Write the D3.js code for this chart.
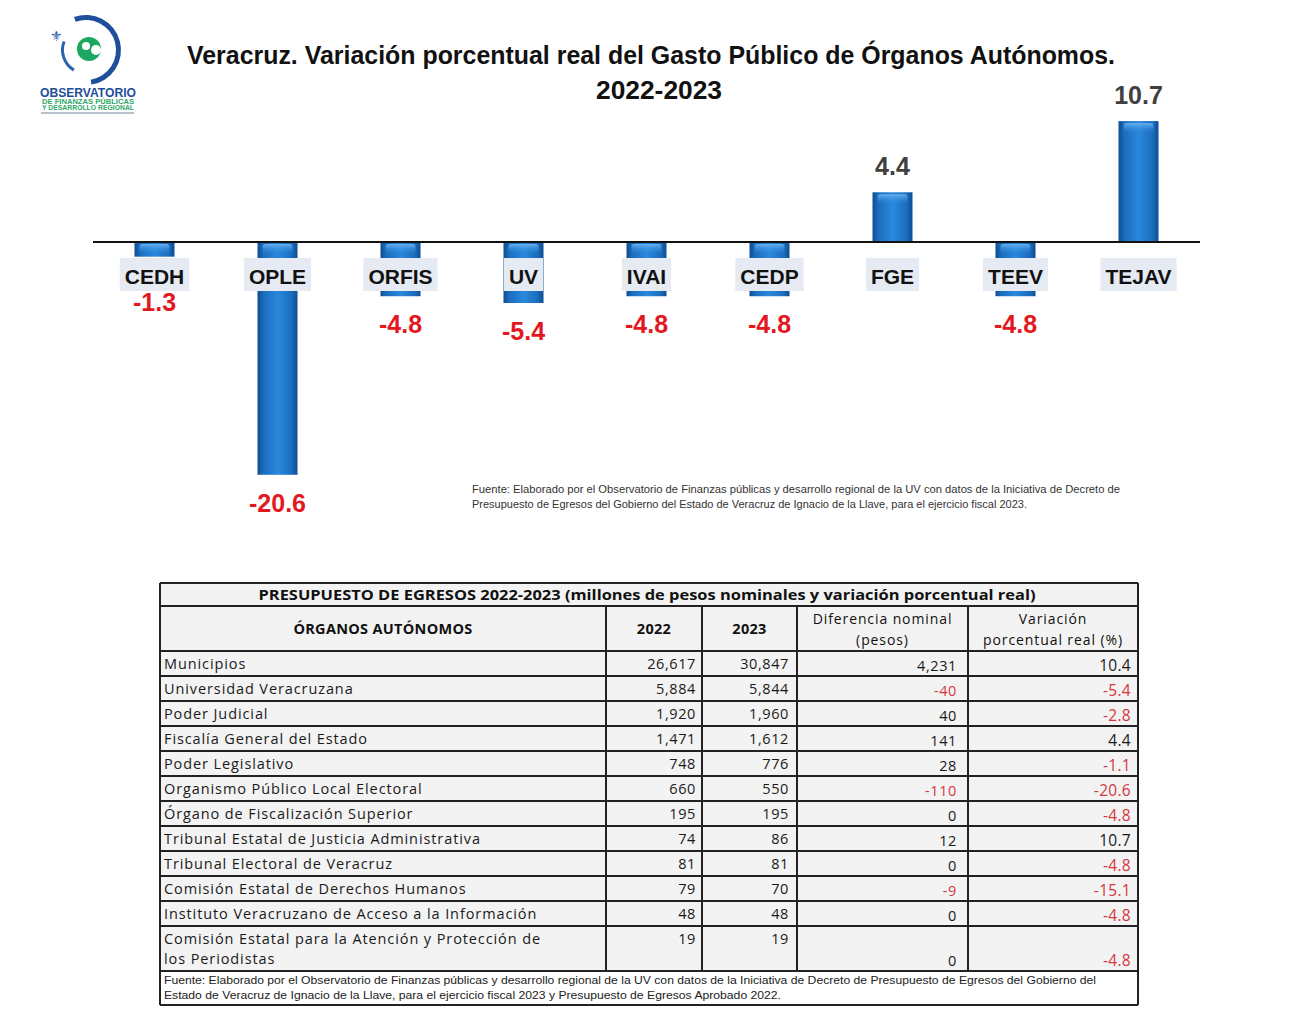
<!DOCTYPE html>
<html>
<head>
<meta charset="utf-8">
<script src="https://cdn.jsdelivr.net/npm/d3@7/dist/d3.min.js"></script>
<style>
  html, body { margin: 0; padding: 0; background: #fff; }
  svg { display: block; }
</style>
</head>
<body>
<div id="chart"></div>
<script>
// ---------- DATA ----------
const categories = ["CEDH", "OPLE", "ORFIS", "UV", "IVAI", "CEDP", "FGE", "TEEV", "TEJAV"];
const variation = [-1.3, -20.6, -4.8, -5.4, -4.8, -4.8, 4.4, -4.8, 10.7];

const organos = [
  "Municipios",
  "Universidad Veracruzana",
  "Poder Judicial",
  "Fiscalía General del Estado",
  "Poder Legislativo",
  "Organismo Público Local Electoral",
  "Órgano de Fiscalización Superior",
  "Tribunal Estatal de Justicia Administrativa",
  "Tribunal Electoral de Veracruz",
  "Comisión Estatal de Derechos Humanos",
  "Instituto Veracruzano de Acceso a la Información",
  "Comisión Estatal para la Atención y Protección de|los Periodistas"
];
const pres2022 = [26617, 5884, 1920, 1471, 748, 660, 195, 74, 81, 79, 48, 19];
const pres2023 = [30847, 5844, 1960, 1612, 776, 550, 195, 86, 81, 70, 48, 19];
const difNominal = [4231, -40, 40, 141, 28, -110, 0, 12, 0, -9, 0, 0];
const varReal = [10.4, -5.4, -2.8, 4.4, -1.1, -20.6, -4.8, 10.7, -4.8, -15.1, -4.8, -4.8];

const tableTitle = "PRESUPUESTO DE EGRESOS 2022-2023 (millones de pesos nominales y variación porcentual real)";
const colHeaders = ["ÓRGANOS AUTÓNOMOS", "2022", "2023", "Diferencia nominal|(pesos)", "Variación|porcentual real (%)"];
const chartTitle = ["Veracruz. Variación porcentual real del Gasto Público de Órganos Autónomos.", "2022-2023"];
const chartSource = [
  "Fuente: Elaborado por el Observatorio de Finanzas públicas y desarrollo regional de la UV con datos de la  Iniciativa de  Decreto de",
  "Presupuesto de Egresos del Gobierno del Estado de Veracruz de Ignacio de la Llave, para el ejercicio fiscal 2023."
];
const tableSource = [
  "Fuente: Elaborado por el Observatorio de Finanzas públicas y desarrollo regional de la UV con datos de la  Iniciativa de  Decreto de Presupuesto de Egresos del Gobierno del",
  "Estado de Veracruz de Ignacio de la Llave, para el ejercicio fiscal 2023 y Presupuesto de Egresos Aprobado 2022."
];

// ---------- SVG ----------
const W = 1294, H = 1027;
const svg = d3.select("#chart").append("svg").attr("width", W).attr("height", H);
svg.append("rect").attr("width", W).attr("height", H).attr("fill", "#fff");

const FONT = "'Liberation Sans', Arial, sans-serif";
const TFONT = "'Open Sans', 'Liberation Sans', sans-serif";
const hy = s => s.replace(/\u2212/g, "-");
const fmt1 = v => hy(d3.format(".1f")(v));
const fmtInt = v => hy(d3.format(",")(v));

const defs = svg.append("defs");
const g1 = defs.append("linearGradient").attr("id", "barGrad").attr("x1", 0).attr("x2", 1).attr("y1", 0).attr("y2", 0);
[["0%", "#0f4d8f"], ["14%", "#1b6cbc"], ["50%", "#2a88dc"], ["86%", "#1b6cbc"], ["100%", "#0f4d8f"]]
  .forEach(([o, c]) => g1.append("stop").attr("offset", o).attr("stop-color", c));
const g2 = defs.append("linearGradient").attr("id", "hiGrad").attr("x1", 0).attr("x2", 0).attr("y1", 0).attr("y2", 1);
[["0%", "#6fb6f2", 0.9], ["100%", "#2a88dc", 0]]
  .forEach(([o, c, a]) => g2.append("stop").attr("offset", o).attr("stop-color", c).attr("stop-opacity", a));

// ---------- LOGO ----------
const logo = svg.append("g");
logo.append("path")
  .attr("d", d3.arc()({ innerRadius: 30, outerRadius: 35, startAngle: -0.35, endAngle: Math.PI * 0.95 }))
  .attr("transform", "translate(86,50)").attr("fill", "#1f4e9a");
logo.append("path")
  .attr("d", d3.arc()({ innerRadius: 22, outerRadius: 25, startAngle: -2.6, endAngle: -1.2 }))
  .attr("transform", "translate(86,50)").attr("fill", "#2b63ad");
logo.append("circle").attr("cx", 89).attr("cy", 49).attr("r", 12).attr("fill", "#1aa860");
logo.append("circle").attr("cx", 96).attr("cy", 50).attr("r", 5).attr("fill", "#fff");
logo.append("circle").attr("cx", 86).attr("cy", 46).attr("r", 4).attr("fill", "#fff");
logo.append("text").attr("x", 56).attr("y", 41).attr("font-size", 14).attr("font-family", FONT)
  .attr("fill", "#2a62b0").attr("text-anchor", "middle").text("⚜");
logo.append("text").attr("x", 88).attr("y", 97).attr("text-anchor", "middle")
  .attr("font-family", FONT).attr("font-weight", "bold").attr("font-size", 12).attr("fill", "#1f4e9a")
  .attr("textLength", 96).attr("lengthAdjust", "spacingAndGlyphs").text("OBSERVATORIO");
logo.append("text").attr("x", 88).attr("y", 104).attr("text-anchor", "middle")
  .attr("font-family", FONT).attr("font-weight", "bold").attr("font-size", 6.5).attr("fill", "#2fa86a")
  .attr("textLength", 92).attr("lengthAdjust", "spacingAndGlyphs").text("DE FINANZAS PÚBLICAS");
logo.append("text").attr("x", 88).attr("y", 110).attr("text-anchor", "middle")
  .attr("font-family", FONT).attr("font-weight", "bold").attr("font-size", 6.5).attr("fill", "#2fa86a")
  .attr("textLength", 92).attr("lengthAdjust", "spacingAndGlyphs").text("Y DESARROLLO REGIONAL");
logo.append("rect").attr("x", 41).attr("y", 112).attr("width", 93).attr("height", 2).attr("fill", "#b8c2cc");

// ---------- TITLE ----------
svg.append("text").attr("x", 651).attr("y", 64).attr("text-anchor", "middle")
  .attr("font-family", FONT).attr("font-weight", "bold").attr("font-size", 25).attr("fill", "#111")
  .attr("textLength", 928).attr("lengthAdjust", "spacingAndGlyphs").text(chartTitle[0]);
svg.append("text").attr("x", 659).attr("y", 99).attr("text-anchor", "middle")
  .attr("font-family", FONT).attr("font-weight", "bold").attr("font-size", 25).attr("fill", "#111")
  .attr("textLength", 126).attr("lengthAdjust", "spacingAndGlyphs").text(chartTitle[1]);

// ---------- BAR CHART ----------
const x = d3.scaleBand().domain(categories).range([93, 1200]).padding(0);
const y = d3.scaleLinear().domain([-25, 15]).range([242 + 25 * 11.3, 242 - 15 * 11.3]);
const bw = 40;
const data = categories.map((c, i) => ({ c, v: variation[i] }));

const bars = svg.append("g");
bars.selectAll("rect.bar").data(data).join("rect").attr("class", "bar")
  .attr("x", d => x(d.c) + x.bandwidth() / 2 - bw / 2)
  .attr("y", d => Math.min(y(d.v), y(0)))
  .attr("width", bw)
  .attr("height", d => Math.abs(y(d.v) - y(0)))
  .attr("fill", "url(#barGrad)");
bars.selectAll("rect.hi").data(data).join("rect").attr("class", "hi")
  .attr("x", d => x(d.c) + x.bandwidth() / 2 - bw / 2 + 5)
  .attr("y", d => Math.min(y(d.v), y(0)) + 2)
  .attr("width", bw - 10)
  .attr("height", d => Math.min(10, Math.abs(y(d.v) - y(0)) - 3))
  .attr("rx", 3)
  .attr("fill", "url(#hiGrad)");

// axis line (zero)
svg.append("line").attr("x1", 93).attr("x2", 1200).attr("y1", y(0)).attr("y2", y(0))
  .attr("stroke", "#111").attr("stroke-width", 2);

// category labels with light boxes
const catG = svg.append("g");
data.forEach(d => {
  const cx = x(d.c) + x.bandwidth() / 2;
  const t = catG.append("text").attr("x", cx).attr("y", 284).attr("text-anchor", "middle")
    .attr("font-family", FONT).attr("font-weight", "bold").attr("font-size", 21).attr("fill", "#111")
    .text(d.c);
  const bb = t.node().getBBox();
  catG.insert("rect", "text").attr("x", bb.x - 5).attr("y", 258).attr("width", bb.width + 10).attr("height", 33)
    .attr("fill", "#e6eaf2");
});

// value labels
svg.append("g").selectAll("text").data(data).join("text")
  .attr("x", d => x(d.c) + x.bandwidth() / 2)
  .attr("y", d => d.v >= 0 ? y(d.v) - 17 : Math.max(y(d.v) + 37, 311))
  .attr("text-anchor", "middle")
  .attr("font-family", FONT).attr("font-weight", "bold").attr("font-size", 25)
  .attr("fill", d => d.v >= 0 ? "#404040" : "#e3181f")
  .text(d => fmt1(d.v));

// chart source
chartSource.forEach((s, i) => {
  svg.append("text").attr("x", 472).attr("y", 493 + i * 15)
    .attr("font-family", FONT).attr("font-size", 10).attr("fill", "#333")
    .attr("textLength", i === 0 ? 648 : 555).attr("lengthAdjust", "spacingAndGlyphs").text(s);
});

// ---------- TABLE ----------
const colX = [160, 606, 702, 797, 968, 1138];
const tTop = 583, titleH = 23, headH = 45;
const rowH = organos.map(n => n.includes("|") ? 45 : 25);
const rowTop = [];
let acc = tTop + titleH + headH;
rowH.forEach(h => { rowTop.push(acc); acc += h; });
const footTop = acc, tBottom = 1005;

const tbl = svg.append("g");
tbl.append("rect").attr("x", colX[0]).attr("y", tTop).attr("width", colX[5] - colX[0]).attr("height", footTop - tTop)
  .attr("fill", "#f3f3f3");
tbl.append("rect").attr("x", colX[0]).attr("y", footTop).attr("width", colX[5] - colX[0]).attr("height", tBottom - footTop)
  .attr("fill", "#fff");

tbl.append("text").attr("x", 647).attr("y", tTop + 17).attr("text-anchor", "middle")
  .attr("font-family", TFONT).attr("font-weight", "bold").attr("font-size", 14).attr("fill", "#111")
  .attr("textLength", 777).attr("lengthAdjust", "spacingAndGlyphs").text(tableTitle);

const hTop = tTop + titleH;
colHeaders.forEach((h, i) => {
  const cx = (colX[i] + colX[i + 1]) / 2;
  const lines = h.split("|");
  const bold = i < 3;
  lines.forEach((ln, k) => {
    tbl.append("text").attr("x", cx)
      .attr("y", lines.length === 1 ? hTop + 28 : hTop + 18 + k * 21)
      .attr("text-anchor", "middle").attr("font-family", TFONT)
      .attr("font-weight", bold ? "bold" : "normal").attr("font-size", bold ? 14.5 : 14)
      .attr("letter-spacing", bold ? 0.3 : 0.9).attr("fill", "#111").text(ln);
  });
});

const red = "#d6363c";
organos.forEach((name, r) => {
  const top = rowTop[r], h = rowH[r];
  const two = h > 25;
  name.split("|").forEach((ln, k) => {
    tbl.append("text").attr("x", colX[0] + 4).attr("y", top + 18 + k * 20)
      .attr("font-family", TFONT).attr("font-size", 14.5).attr("letter-spacing", 0.9).attr("fill", "#1a1a1a").text(ln);
  });
  const yTopLine = top + 18, yBottomLine = top + h - 5;
  tbl.append("text").attr("x", colX[2] - 6).attr("y", yTopLine).attr("text-anchor", "end")
    .attr("font-family", TFONT).attr("font-size", 14.5).attr("letter-spacing", 0.6).attr("fill", "#1a1a1a").text(fmtInt(pres2022[r]));
  tbl.append("text").attr("x", colX[3] - 8).attr("y", yTopLine).attr("text-anchor", "end")
    .attr("font-family", TFONT).attr("font-size", 14.5).attr("letter-spacing", 0.6).attr("fill", "#1a1a1a").text(fmtInt(pres2023[r]));
  tbl.append("text").attr("x", colX[4] - 11).attr("y", two ? yBottomLine : top + 20).attr("text-anchor", "end")
    .attr("font-family", TFONT).attr("font-size", 14.5).attr("letter-spacing", 0.6)
    .attr("fill", difNominal[r] < 0 ? red : "#1a1a1a").text(fmtInt(difNominal[r]));
  tbl.append("text").attr("x", colX[5] - 7).attr("y", two ? yBottomLine : top + 20).attr("text-anchor", "end")
    .attr("font-family", TFONT).attr("font-size", 15.5).attr("letter-spacing", 0.3)
    .attr("fill", varReal[r] < 0 ? red : "#1a1a1a").text(fmt1(varReal[r]));
});

const hLines = [tTop, tTop + titleH, hTop + headH, ...rowTop.slice(1), footTop, tBottom];
hLines.forEach(yy => tbl.append("line").attr("x1", colX[0]).attr("x2", colX[5]).attr("y1", yy).attr("y2", yy)
  .attr("stroke", "#222").attr("stroke-width", 2));
[colX[0], colX[5]].forEach(xx => tbl.append("line").attr("x1", xx).attr("x2", xx).attr("y1", tTop).attr("y2", tBottom)
  .attr("stroke", "#222").attr("stroke-width", 2));
colX.slice(1, 5).forEach(xx => tbl.append("line").attr("x1", xx).attr("x2", xx).attr("y1", tTop + titleH).attr("y2", footTop)
  .attr("stroke", "#222").attr("stroke-width", 2));

tableSource.forEach((s, i) => {
  tbl.append("text").attr("x", colX[0] + 4).attr("y", footTop + 13 + i * 15)
    .attr("font-family", FONT).attr("font-size", 10).attr("fill", "#222")
    .attr("textLength", i === 0 ? 932 : 617).attr("lengthAdjust", "spacingAndGlyphs").text(s);
});
</script>
</body>
</html>
